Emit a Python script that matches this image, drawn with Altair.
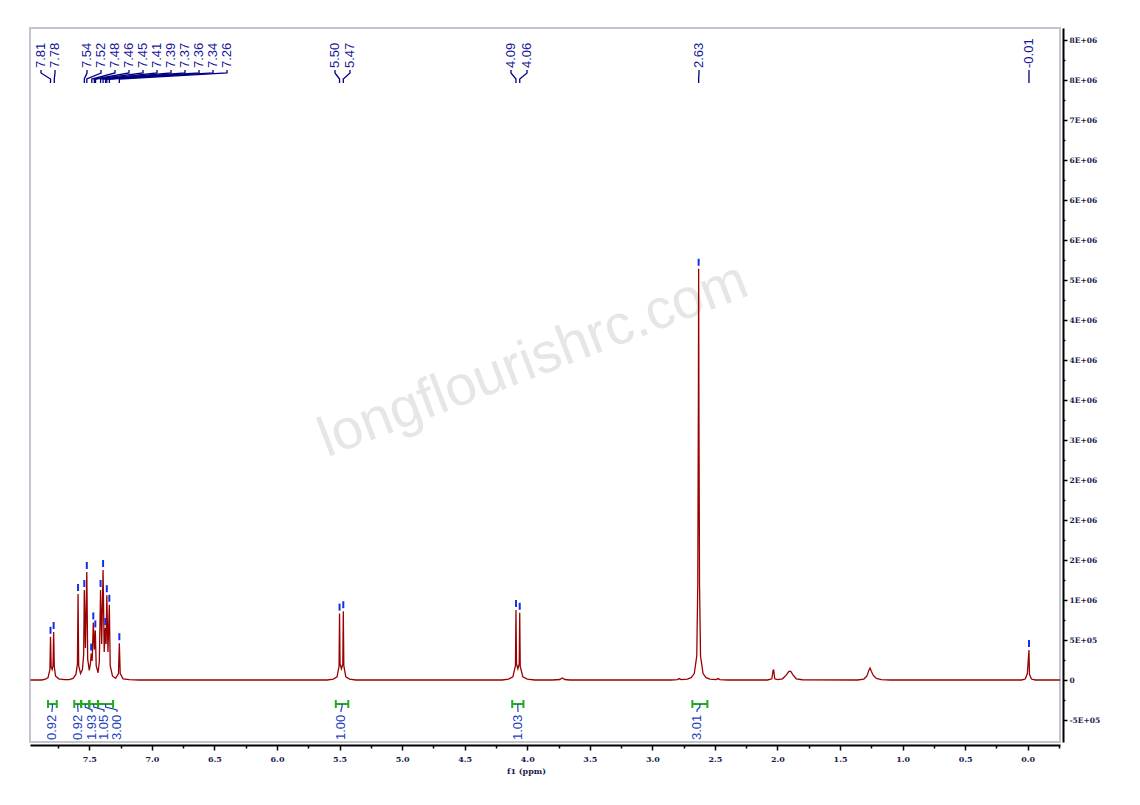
import altair as alt
import pandas as pd

# ------------------------------------------------------------------ data
# spectrum trace (ppm, intensity)
trace_ppm = [7.97, 7.88, 7.85, 7.83, 7.815, 7.81, 7.805, 7.797, 7.79, 7.785, 7.78, 7.77, 7.745, 7.70,
             7.66, 7.63, 7.607, 7.595, 7.59, 7.585, 7.57, 7.555, 7.545, 7.54, 7.531, 7.52, 7.513, 7.50,
             7.49, 7.485, 7.477, 7.468, 7.46, 7.452, 7.445, 7.43, 7.42, 7.41, 7.401, 7.39, 7.381, 7.372,
             7.366, 7.36, 7.351, 7.34, 7.333, 7.315, 7.29, 7.267, 7.26, 7.253, 7.23, 7.18, 7.10,
             5.60, 5.55, 5.52, 5.504, 5.50, 5.496, 5.485, 5.474, 5.47, 5.466, 5.45, 5.42, 5.37,
             4.20, 4.15, 4.115, 4.094, 4.09, 4.086, 4.075, 4.064, 4.06, 4.056, 4.035, 4.00, 3.94,
             3.80, 3.74, 3.72, 3.70, 3.66,
             2.85, 2.80, 2.785, 2.77, 2.72, 2.69, 2.665, 2.645, 2.637, 2.632, 2.63, 2.628, 2.623,
             2.615, 2.595, 2.57, 2.54, 2.49, 2.475, 2.46, 2.40,
             2.08, 2.045, 2.035, 2.03, 2.022, 2.00, 1.96, 1.93, 1.91, 1.895, 1.875, 1.85, 1.80,
             1.36, 1.31, 1.285, 1.27, 1.26, 1.25, 1.235, 1.21, 1.17, 1.10,
             0.05, 0.02, 0.003, -0.01, -0.014, -0.03, -0.06, -0.258]
trace_int = [0, 0, 1.0e4, 3e4, 1.3e5, 5.4e5, 1.6e5, 1.3e5, 1.8e5, 6.0e5, 1.7e5, 5e4, 1.5e4, 5e3,
             5e3, 2e4, 7e4, 2.0e5, 1.075e6, 1.8e5, 8e4, 1.3e5, 3.2e5, 1.125e6, 4.0e5, 1.35e6, 2.6e5, 1.2e5,
             2.2e5, 3.3e5, 2.4e5, 7.2e5, 3.8e5, 6.2e5, 1.8e5, 9e4, 2.3e5, 1.125e6, 4.5e5, 1.375e6, 3.5e5, 6.5e5,
             4.5e5, 1.06e6, 3.5e5, 9.4e5, 1.8e5, 5e4, 2.0e4, 8e4, 4.6e5, 8e4, 1.5e4, 5e3, 0,
             0, 1.2e4, 4e4, 1.7e5, 8.3e5, 2.0e5, 1.4e5, 2.0e5, 8.6e5, 1.8e5, 4e4, 1.2e4, 0,
             0, 1.2e4, 4e4, 1.8e5, 8.75e5, 2.0e5, 1.4e5, 2.0e5, 8.4e5, 1.7e5, 4e4, 1.2e4, 0,
             0, 6e3, 2.5e4, 6e3, 0,
             0, 5e3, 1.8e4, 5e3, 1.2e4, 3e4, 8e4, 3.0e5, 1.2e6, 3.5e6, 5.14e6, 3.5e6, 1.2e6,
             3.0e5, 8e4, 3e4, 1.2e4, 5e3, 1.8e4, 5e3, 0,
             0, 1.5e4, 1.2e5, 1.25e5, 1.5e4, 5e3, 1.5e4, 6e4, 1.05e5, 1.1e5, 6e4, 1.5e4, 3e3,
             0, 1.2e4, 5e4, 1.2e5, 1.5e5, 1.1e5, 6e4, 2e4, 5e3, 0,
             0, 1.2e4, 8e4, 3.75e5, 7e4, 1.2e4, 0, 0]

# picked peaks (blue markers)
peak_ppm = [7.81, 7.785, 7.59, 7.54, 7.52, 7.485, 7.468, 7.452, 7.41, 7.39, 7.372, 7.36, 7.34, 7.26,
            5.50, 5.47, 4.09, 4.06, 2.63, -0.01]
peak_height = [5.4e5, 6.0e5, 1.075e6, 1.125e6, 1.35e6, 3.3e5, 7.2e5, 6.2e5, 1.125e6, 1.375e6, 6.5e5,
               1.06e6, 9.4e5, 4.6e5, 8.3e5, 8.6e5, 8.75e5, 8.4e5, 5.14e6, 3.75e5]

# peak labels
label_text = ["7.81", "7.78", "7.54", "7.52", "7.48", "7.46", "7.45", "7.41", "7.39", "7.37", "7.36",
              "7.34", "7.26", "5.50", "5.47", "4.09", "4.06", "2.63", "-0.01"]

# integrals
integral_text = ["0.92", "0.92", "1.93", "1.05", "3.00", "1.00", "1.03", "3.01"]
integral_start = [7.83, 7.62, 7.565, 7.50, 7.43, 5.53, 4.12, 2.68]
integral_end = [7.76, 7.565, 7.50, 7.43, 7.31, 5.43, 4.03, 2.56]

x_major = [7.5, 7.0, 6.5, 6.0, 5.5, 5.0, 4.5, 4.0, 3.5, 3.0, 2.5, 2.0, 1.5, 1.0, 0.5, 0.0]
x_minor = [7.75, 7.25, 6.75, 6.25, 5.75, 5.25, 4.75, 4.25, 3.75, 3.25, 2.75, 2.25, 1.75, 1.25, 0.75, 0.25, -0.25]
y_tick_values = [-500000, 0, 500000, 1000000, 1500000, 2000000, 2500000, 3000000, 3500000, 4000000,
                 4500000, 5000000, 5500000, 6000000, 6500000, 7000000, 7500000, 8000000]
y_tick_labels = ["-5E+05", "0", "5E+05", "1E+06", "2E+06", "2E+06", "2E+06", "3E+06", "4E+06", "4E+06",
                 "4E+06", "5E+06", "6E+06", "6E+06", "6E+06", "7E+06", "8E+06", "8E+06"]
y_minor = [-250000, 250000, 750000, 1250000, 1750000, 2250000, 2750000, 3250000, 3750000, 4250000,
           4750000, 5250000, 5750000, 6250000, 6750000, 7250000, 7750000]

x_title = "f1 (ppm)"
watermark = "longflourishrc.com"

# ------------------------------------------------------------------ layout
W, H = 1030, 714
X_LO, X_HI = -0.258, 7.974
Y_LO, Y_HI = -775000, 8150000
PAGE_LEFT, PAGE_TOP = 30, 28  # plot origin on page


def px2ppm(px):
    return X_HI - (px - PAGE_LEFT) / W * (X_HI - X_LO)


def px2val(py):
    return Y_HI - (py - PAGE_TOP) / H * (Y_HI - Y_LO)


def dpx(n):  # n pixels in intensity units
    return n * (Y_HI - Y_LO) / H


label_slot_px = [41, 55, 87, 101, 115, 129, 143, 157, 171, 185, 199, 213, 227, 335, 350, 511, 527, 699, 1029]
integral_slot_px = [52, 78, 92, 104, 117, 341, 518, 697]

xscale = alt.Scale(domain=[X_LO, X_HI], reverse=True, nice=False, zero=False)
yscale = alt.Scale(domain=[Y_LO, Y_HI], nice=False, zero=False)

SERIF = "DejaVu Serif"
AX_COLOR = "#1a1a4a"

label_expr = " : ".join(f"datum.value == {v} ? '{l}'" for v, l in zip(y_tick_values, y_tick_labels)) + " : ''"

trace_df = pd.DataFrame({"ppm": trace_ppm, "i": trace_int, "k": range(len(trace_ppm))})

trace = alt.Chart(trace_df).mark_line(color="#990000", strokeWidth=1.3, clip=True).encode(
    x=alt.X("ppm:Q", scale=xscale,
            axis=alt.Axis(values=x_major, format=".1f", orient="bottom", offset=3, grid=False,
                          domainColor="black", domainWidth=2, tickColor="black", tickWidth=1.5,
                          tickSize=5, labelFont=SERIF, labelFontSize=8, labelFontWeight="bold",
                          labelColor=AX_COLOR, labelPadding=5, title=x_title, titleFont=SERIF,
                          titleFontSize=8, titleFontWeight="bold", titleColor=AX_COLOR,
                          titleX=496, titleY=22, titleBaseline="top")),
    y=alt.Y("i:Q", scale=yscale,
            axis=alt.Axis(values=y_tick_values, labelExpr=label_expr, orient="right", offset=3,
                          grid=False, domainColor="black", domainWidth=2, tickColor="black",
                          tickWidth=1.5, tickSize=4, labelFont=SERIF, labelFontSize=7.5,
                          labelFontWeight="bold", labelColor=AX_COLOR, labelPadding=2, title=None)),
    order="k:Q",
)

minor_df = pd.DataFrame({"ppm": [x_minor[0]], "i": [y_minor[0]]})
minor_axes = alt.Chart(minor_df).mark_point(opacity=0).encode(
    x=alt.X("ppm:Q", scale=xscale,
            axis=alt.Axis(values=x_minor, labels=False, domain=False, orient="bottom", offset=3,
                          grid=False, tickColor="black", tickWidth=1.5, tickSize=3, title=None)),
    y=alt.Y("i:Q", scale=yscale,
            axis=alt.Axis(values=y_minor, labels=False, domain=False, orient="right", offset=3,
                          grid=False, tickColor="black", tickWidth=1.5, tickSize=2, title=None)),
)

wm = alt.Chart(pd.DataFrame({"t": [watermark]})).mark_text(
    font="Liberation Sans", fontSize=56, color="#e6e6e6", angle=339, align="center", baseline="middle"
).encode(x=alt.value(503), y=alt.value(332), text="t:N")

peaks_df = pd.DataFrame({"ppm": peak_ppm, "h": peak_height})
peaks_df["y1"] = peaks_df["h"] + dpx(3)
peaks_df["y2"] = peaks_df["h"] + dpx(10)
peak_marks = alt.Chart(peaks_df).mark_rule(color="#1530e0", strokeWidth=2).encode(
    x=alt.X("ppm:Q", scale=xscale, axis=None),
    y=alt.Y("y1:Q", scale=yscale, axis=None), y2="y2:Q")

lab_df = pd.DataFrame({"slot": [px2ppm(p) for p in label_slot_px], "t": label_text})
labels = alt.Chart(lab_df).mark_text(
    angle=270, align="left", baseline="middle", font="Liberation Sans", fontSize=13, color="#16169a"
).encode(x=alt.X("slot:Q", scale=xscale, axis=None), y=alt.value(68 - PAGE_TOP), text="t:N")

lead_rows = []
for n, (t, sp) in enumerate(zip(label_text, label_slot_px)):
    target = float(t)
    pts = [(px2ppm(sp), px2val(70)), (px2ppm(sp), px2val(73)), (target, px2val(79)), (target, px2val(83))]
    for k, (x, y) in enumerate(pts):
        lead_rows.append({"id": n, "k": k, "x": x, "y": y})
leaders = alt.Chart(pd.DataFrame(lead_rows)).mark_line(color="#000080", strokeWidth=1.3).encode(
    x=alt.X("x:Q", scale=xscale, axis=None), y=alt.Y("y:Q", scale=yscale, axis=None),
    detail="id:N", order="k:Q")

int_df = pd.DataFrame({"a": integral_start, "b": integral_end, "t": integral_text,
                       "slot": [px2ppm(p) for p in integral_slot_px]})
GREEN = "#22aa22"
int_line = alt.Chart(int_df).mark_rule(color=GREEN, strokeWidth=2).encode(
    x=alt.X("a:Q", scale=xscale, axis=None), x2="b:Q", y=alt.value(704 - PAGE_TOP))
cap_df = pd.DataFrame({"p": integral_start + integral_end})
int_caps = alt.Chart(cap_df).mark_rule(color=GREEN, strokeWidth=2).encode(
    x=alt.X("p:Q", scale=xscale, axis=None), y=alt.value(700 - PAGE_TOP), y2=alt.value(708 - PAGE_TOP))
int_labels = alt.Chart(int_df).mark_text(
    angle=270, align="left", baseline="middle", font="Liberation Sans", fontSize=13, color="#1a40c0"
).encode(x=alt.X("slot:Q", scale=xscale, axis=None), y=alt.value(740 - PAGE_TOP), text="t:N")

il_rows = []
for n, (a, b, sp) in enumerate(zip(integral_start, integral_end, integral_slot_px)):
    c = (a + b) / 2
    pts = [(px2ppm(sp), px2val(712)), (px2ppm(sp), px2val(710)), (c, px2val(707)), (c, px2val(704))]
    for k, (x, y) in enumerate(pts):
        il_rows.append({"id": n, "k": k, "x": x, "y": y})
int_leaders = alt.Chart(pd.DataFrame(il_rows)).mark_line(color="#1a40c0", strokeWidth=1.2).encode(
    x=alt.X("x:Q", scale=xscale, axis=None), y=alt.Y("y:Q", scale=yscale, axis=None),
    detail="id:N", order="k:Q")

chart = alt.layer(
    wm, trace, minor_axes, peak_marks, leaders, labels, int_line, int_caps, int_leaders, int_labels
).resolve_axis(x="independent", y="independent").properties(
    width=W, height=H, autosize="none",
    padding={"left": PAGE_LEFT - 8, "top": PAGE_TOP - 8, "right": 72, "bottom": 55},
).configure_view(stroke="#c4c4d2", strokeWidth=2)

chart.save("out.html", embed_options={"renderer": "svg", "actions": False})
